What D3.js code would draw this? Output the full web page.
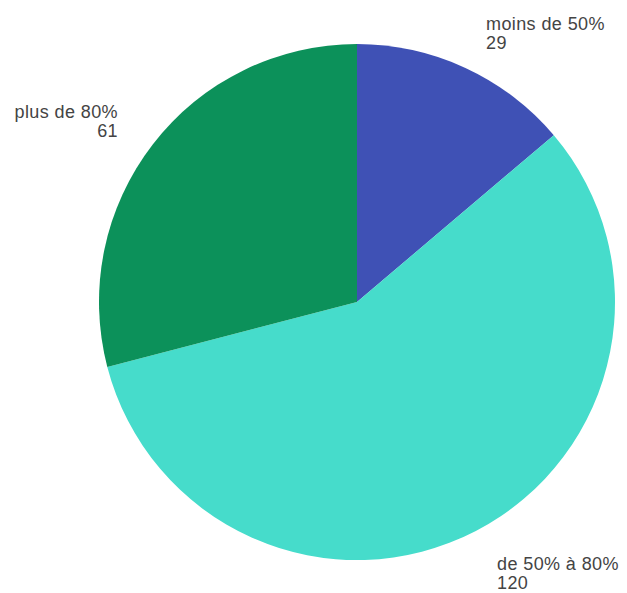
<!DOCTYPE html>
<html><head><meta charset="utf-8">
<script src="https://cdn.jsdelivr.net/npm/d3@7"></script>
<style>body{margin:0;background:#fff}</style>
</head><body>
<svg id="c" width="627" height="593"></svg>
<script>
const categories = ["moins de 50%", "de 50% à 80%", "plus de 80%"];
const values = [29, 120, 61];
const colors = ["#3f51b5", "#46dccb", "#0c915a"];

const svg = d3.select("#c");
const cx = 357, cy = 302, r = 258;
const data = categories.map((c, i) => ({cat: c, v: values[i], col: colors[i]}));
const pie = d3.pie().sort(null).value(d => d.v);
const arc = d3.arc().innerRadius(0).outerRadius(r);
const g = svg.append("g").attr("transform", `translate(${cx},${cy})`);
g.selectAll("path").data(pie(data)).enter().append("path")
  .attr("d", arc).attr("fill", d => d.data.col);

const labelPos = [
  {x: 486, y: 30, anchor: "start"},
  {x: 497, y: 570, anchor: "start"},
  {x: 118, y: 118, anchor: "end"}
];
const font = "'Liberation Sans', Arial, sans-serif";
data.forEach((d, i) => {
  const p = labelPos[i];
  const t = svg.append("text").attr("x", p.x).attr("y", p.y)
    .attr("text-anchor", p.anchor).attr("font-family", font)
    .attr("font-size", 18).attr("letter-spacing", 0.4).attr("fill", "#444");
  t.append("tspan").attr("x", p.x).text(d.cat);
  t.append("tspan").attr("x", p.x).attr("dy", 19).text(d.v);
});
</script>
</body></html>
